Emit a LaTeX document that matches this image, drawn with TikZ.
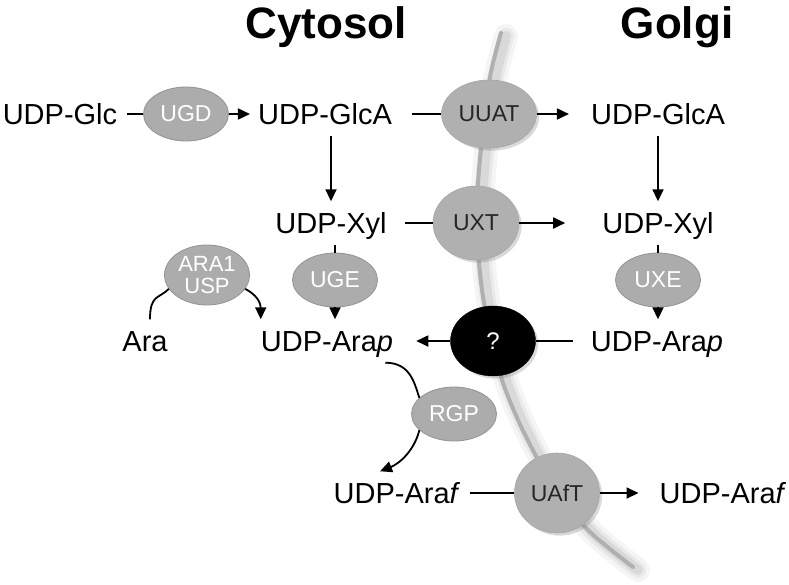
\documentclass[tikz,border=0pt]{standalone}
\usepackage{fontspec}
\setmainfont{Liberation Sans}
\usetikzlibrary{shapes.geometric,arrows.meta,shadows}
\begin{document}
\begin{tikzpicture}[x=1pt,y=-1pt,
  lbl/.style={font=\fontsize{29}{34}\selectfont, text height=24pt, text depth=3pt, inner sep=8pt},
  ttl/.style={font=\fontsize{44}{50}\selectfont\bfseries, anchor=base, inner sep=0pt},
  enz/.style={ellipse, minimum width=85pt, minimum height=54pt, inner sep=0pt, fill=gray!65, draw=gray!85, line width=0.8pt, text=white, font=\fontsize{23}{24}\selectfont},
  trn/.style={ellipse, inner sep=0pt, fill=gray!62, draw=gray!70, line width=0.6pt, text=black!85, font=\fontsize{23}{24}\selectfont, drop shadow={opacity=0.3}},
  qmk/.style={ellipse, inner sep=0pt, fill=black, draw=black, text=white, font=\fontsize{24}{24}\selectfont, drop shadow={opacity=0.3}},
  ln/.style={line width=1.8pt},
  arr/.style={line width=1.8pt, -{Triangle[length=12pt,width=11pt]}}]
\useasboundingbox (0,0) rectangle (789,584);
% membrane
\foreach \w/\o in {24/0.04,16/0.05,10/0.07}{
  \draw[line width=\w pt, black, opacity=\o, line cap=round, shift={(5,3)}] plot[smooth] coordinates {(501,33) (490,77) (482,140) (478,183) (477,222) (479,263) (484,303) (493,340) (502,380) (518,420) (537,458) (557,493) (590,532) (633,567)};
}
\draw[line width=4pt, gray!62, line cap=round] plot[smooth] coordinates {(501,33) (490,77) (482,140) (478,183) (477,222) (479,263) (484,303) (493,340) (502,380) (518,420) (537,458) (557,493) (590,532) (633,567)};
% titles
\node[ttl] (cyt) at (326,38) {Cytosol};
\node[ttl] (gol) at (677,38) {Golgi};
% row 1
\node[lbl] (glc) at (60,114) {UDP-Glc};
\node[enz] (ugd) at (186,114) {UGD};
\node[lbl] (glcaC) at (325,114) {UDP-GlcA};
\node[trn, minimum width=95pt, minimum height=68pt] (uuat) at (489,114) {UUAT};
\node[lbl] (glcaG) at (658,114) {UDP-GlcA};
% row 2
\node[lbl] (xylC) at (331,223) {UDP-Xyl};
\node[trn, minimum width=86pt, minimum height=74pt] (uxt) at (476,223) {UXT};
\node[lbl] (xylG) at (658,223) {UDP-Xyl};
\node[enz] (uge) at (335,280) {UGE};
\node[enz] (uxe) at (658,280) {UXE};
\node[enz, minimum height=60pt, align=center, font=\fontsize{22}{22}\selectfont] (ara1) at (207,275) {ARA1\\USP};
% row 3
\node[lbl] (ara) at (145,341) {Ara};
\node[lbl] (arapC) at (327,341) {UDP-Ara\textit{p}};
\node[qmk, minimum width=85pt, minimum height=70pt] (q) at (493,341) {?};
\node[lbl] (arapG) at (657,341) {UDP-Ara\textit{p}};
\node[enz] (rgp) at (454,414) {RGP};
% row 4
\node[lbl] (arafC) at (397,493) {UDP-Ara\textit{f}};
\node[trn, minimum width=85pt, minimum height=80pt] (uaft) at (557,493) {UAfT};
\node[lbl] (arafG) at (723,493) {UDP-Ara\textit{f}};
% connectors
\draw[ln, shorten <=2pt] (glc) -- (ugd);
\draw[arr] (ugd) -- (glcaC);
\draw[ln, shorten <=12pt] (glcaC) -- (uuat);
\draw[arr, shorten >=14pt] (uuat) -- (glcaG);
\draw[arr] (glcaC.south -| xylC.north) -- (xylC.north);
\draw[arr] (glcaG) -- (xylG);
\draw[ln, shorten <=10pt] (xylC) -- (uxt);
\draw[arr, shorten >=29pt] (uxt) -- (xylG);
\draw[ln] (xylC.south -| uge.north) -- (uge.north);
\draw[arr] (uge.south) -- (uge.south |- arapC.north);
\draw[ln] (xylG.south -| uxe.north) -- (uxe.north);
\draw[arr] (uxe.south) -- (uxe.south |- arapG.north);
\draw[ln] ([xshift=5pt]ara.north) .. controls +(0,-25) and +(-10,10) .. (ara1.200);
\draw[arr] (ara1.340) .. controls +(12,6) and +(0,-16) .. ([xshift=8pt]arapC.north west);
\draw[arr, shorten >=15pt] (q) -- (arapC);
\draw[ln, shorten <=10pt] (arapG) -- (q);
\draw[ln] ([xshift=-16pt]arapC.south east) .. controls +(25,0) and +(-5,-15) .. (rgp.155);
\draw[arr] (rgp.205) .. controls +(-5,20) and +(20,-8) .. ([xshift=-17pt]arafC.north);
\draw[ln, shorten <=2pt] (arafC) -- (uaft);
\draw[arr, shorten >=13pt] (uaft) -- (arafG);
\end{tikzpicture}
\end{document}
